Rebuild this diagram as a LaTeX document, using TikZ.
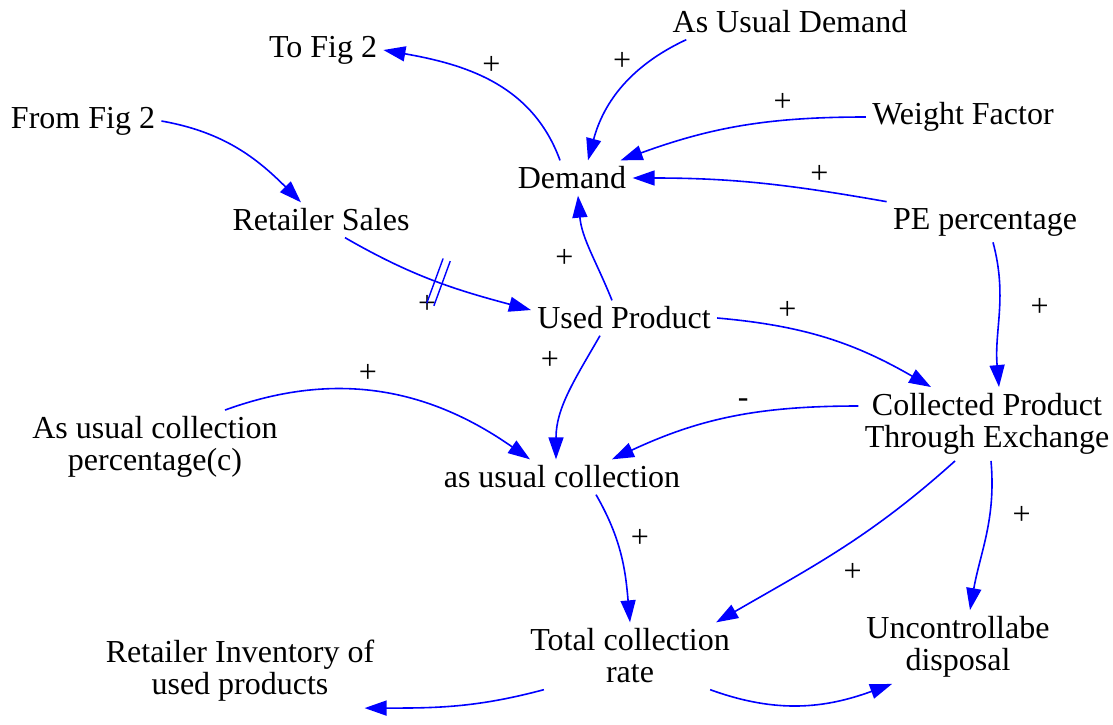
\documentclass[tikz,border=0pt]{standalone}
\usepackage{fontspec}
\setmainfont{Liberation Serif}
\usetikzlibrary{arrows.meta, positioning}

\begin{document}
\begin{tikzpicture}[x=0.5pt, y=0.5pt,
    var/.style={inner sep=3pt, align=center, font=\rmfamily\fontsize{16}{16}\selectfont},
    lnk/.style={draw=blue, line width=0.8pt, -{Triangle[length=11pt, width=7.5pt]}},
    pol/.style={font=\rmfamily\fontsize{16}{16}\selectfont, inner sep=1pt}]
    \useasboundingbox (0,0) rectangle (1113,-724);

    \node [var] (tofig) at (323,-50) {To Fig 2};
    \node [var] (usualdem) at (790,-22) {As Usual Demand};
    \node [var] (fromfig) at (83,-121) {From Fig 2};
    \node [var] (weight) at (963,-117) {Weight Factor};
    \node [var] (demand) at (572,-178) {Demand};
    \node [var] (rsales) at (321,-220) {Retailer Sales};
    \node [var] (pepct) at (985,-222) {PE percentage};
    \node [var] (used) at (624,-318) {Used Product};
    \node [var] (collex) at (987,-424) {Collected Product\\Through Exchange};
    \node [var] (ucpct) at (155,-447) {As usual collection\\percentage(c)};
    \node [var] (ucoll) at (562,-477) {as usual collection};
    \node [var] (total) at (630,-656) {Total collection\\rate};
    \node [var] (disposal) at (958,-647) {Uncontrollabe\\disposal};
    \node [var] (rinv) at (240,-671) {Retailer Inventory of\\used products};

    \draw [lnk] ([xshift=-6pt]demand.north) to[out=110, in=-10] node[pol, pos=0.5, above=2pt] {+} (tofig.east);
    \draw [lnk] ([xshift=10pt]usualdem.south west) to[out=205, in=75] node[pol, pos=0.25, left=8pt] {+} ([xshift=8pt]demand.north);
    \draw [lnk] (weight.west) to[out=180, in=20] node[pol, pos=0.32, above=3pt] {+} ([xshift=-6pt]demand.north east);
    \draw [lnk] (pepct.north west) to[out=170, in=0] node[pol, pos=0.25, above=2pt] {+} (demand.east);
    \draw [lnk] (fromfig.east) to[out=-10, in=135] ([xshift=-10pt]rsales.north);

    \draw [lnk] ([xshift=12pt]rsales.south) to[out=-30, in=165]
        node[sloped, pos=0.52, minimum width=3pt, minimum height=23pt, inner sep=0pt] (dly) {}
        node[pol, pos=0.5, below=6pt, xshift=-4pt] {+} ([yshift=4pt]used.west);
    \draw [blue, line width=0.7pt] (dly.north west) -- (dly.south west) (dly.north east) -- (dly.south east);

    \draw [lnk] ([xshift=-6pt]used.north) to[out=112, in=-85] node[pol, pos=0.4, left=9pt] {+} ([xshift=3pt]demand.south);
    \draw [lnk] (used.east) to[out=-5, in=150] node[pol, pos=0.3, above=3pt] {+} ([xshift=-28pt]collex.north);
    \draw [lnk] ([xshift=4pt]pepct.south) to[out=-75, in=95] node[pol, pos=0.45, right=14pt] {+} ([xshift=6pt]collex.north);
    \draw [lnk] ([xshift=-12pt]used.south) to[out=-120, in=90] node[pol, pos=0.2, left=12pt] {+} ([xshift=-3pt]ucoll.north);
    \draw [lnk] ([xshift=35pt]ucpct.north) to[out=20, in=145] node[pol, pos=0.45, above=3pt] {+} ([xshift=-16pt]ucoll.north);
    \draw [lnk] ([yshift=9pt]collex.west) to[out=180, in=25] node[pol, pos=0.45, above=2pt] {-} ([xshift=25pt]ucoll.north);

    \draw [lnk] ([xshift=17pt]ucoll.south) to[out=-60, in=95] node[pol, pos=0.35, right=6pt] {+} (total.north);
    \draw [lnk] ([xshift=-16pt]collex.south) to[out=-138, in=30] node[pol, pos=0.5, below right=6pt and 0pt] {+} ([xshift=-10pt]total.north east);
    \draw [lnk] ([xshift=2pt]collex.south) to[out=-85, in=80] node[pol, pos=0.35, right=10pt] {+} ([xshift=6pt]disposal.north);
    \draw [lnk] ([xshift=10pt]total.south west) to[out=195, in=0] ([xshift=-8pt]rinv.south east);
    \draw [lnk] ([xshift=-13pt]total.south east) to[out=-20, in=200] ([xshift=16pt]disposal.south west);
\end{tikzpicture}
\end{document}
